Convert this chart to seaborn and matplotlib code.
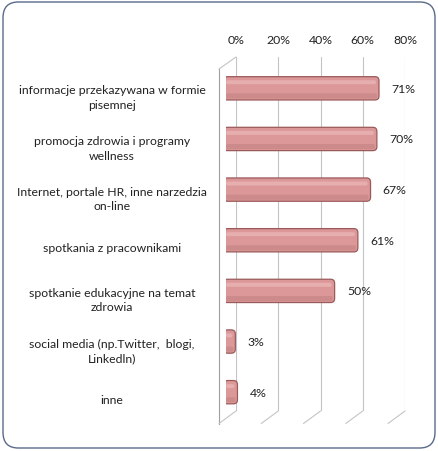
import numpy as np
import pandas as pd
import seaborn as sns
import matplotlib.pyplot as plt
from matplotlib.lines import Line2D
from matplotlib.patches import FancyBboxPatch

categories = [
    "informacje przekazywana w formie\npisemnej",
    "promocja zdrowia i programy\nwellness",
    "Internet, portale HR, inne narzedzia\non-line",
    "spotkania z pracownikami",
    "spotkanie edukacyjne na temat\nzdrowia",
    "social media (np.Twitter,  blogi,\nLinkedln)",
    "inne",
]
values = [71, 70, 67, 61, 50, 3, 4]
value_labels = ["71%", "70%", "67%", "61%", "50%", "3%", "4%"]
xticks = [0, 20, 40, 60, 80]
xtick_labels = ["0%", "20%", "40%", "60%", "80%"]

sns.set_style("white")
plt.rcParams["font.family"] = ["Lato", "DejaVu Sans"]
fs = 8.8

W, H = 438, 452
fig = plt.figure(figsize=(W / 100, H / 100), dpi=100)


def rect(left, top, right, bottom):
    return [left / W, (H - bottom) / H, (right - left) / W, (bottom - top) / H]


# rounded frame
fig.add_artist(FancyBboxPatch((3 / W, 3 / H), 432 / W, 446 / H,
                              boxstyle="round,pad=0,rounding_size=0.035",
                              transform=fig.transFigure, fill=False,
                              edgecolor="#5a6a8a", linewidth=1.0))

df = pd.DataFrame({"cat": categories, "val": values})
ylim = (len(categories) - 0.5, -0.5)

# back wall: grid and top ticks
ax_back = fig.add_axes(rect(236, 58, 405, 412))
ax_back.set_xlim(0, 80)
ax_back.set_ylim(*ylim)
ax_back.set_xticks(xticks)
ax_back.set_xticklabels(xtick_labels, fontsize=fs, color="#222222")
ax_back.set_yticks([])
ax_back.xaxis.tick_top()
ax_back.tick_params(axis="x", length=0, pad=9)
for s in ax_back.spines.values():
    s.set_visible(False)
for t in xticks:
    ax_back.axvline(t, color="#c4c4c4", linewidth=0.8)
ax_back.patch.set_alpha(0)

# bars at mid depth
ax_bar = fig.add_axes(rect(226, 64, 395, 418.5))
sns.barplot(data=df, x="val", y="cat", ax=ax_bar, orient="h", width=0.46,
            color="#dc9898", linewidth=0)
ax_bar.set_xlim(0, 80)
ax_bar.set_ylim(*ylim)
ax_bar.axis("off")
ax_bar.patch.set_alpha(0)

# rounded bar shapes replacing the plain rectangles
xpx = 169 / 80
ypx = 354.5 / len(categories)
r = 4 / xpx
for p in ax_bar.containers[0]:
    x0, y0, w, h = p.get_x(), p.get_y(), p.get_width(), p.get_height()
    w = max(w, 6 / xpx) + 3 / xpx
    p.set_visible(False)
    ax_bar.add_patch(FancyBboxPatch((x0 - 2.5 / xpx, y0), w + 2.5 / xpx, h,
                                    boxstyle=f"round,pad=0,rounding_size={r}",
                                    mutation_aspect=(4 / ypx) / r,
                                    facecolor="#dc9898", edgecolor="#9a5a5a",
                                    linewidth=0.9))
    ax_bar.add_patch(FancyBboxPatch((x0, y0 + 0.07), max(w - 3 / xpx, 1 / xpx), 0.08,
                                    boxstyle=f"round,pad=0,rounding_size={r / 2}",
                                    mutation_aspect=(1.5 / ypx) / (r / 2),
                                    facecolor="#e6aeae", edgecolor="none"))
    ax_bar.add_patch(FancyBboxPatch((x0, y0 + h - 0.13), max(w - 2 / xpx, 1 / xpx), 0.1,
                                    boxstyle=f"round,pad=0,rounding_size={r / 2}",
                                    mutation_aspect=(1.5 / ypx) / (r / 2),
                                    facecolor="#cc8a8a", edgecolor="none"))
ax_bar.bar_label(ax_bar.containers[0], labels=value_labels, padding=11,
                 fontsize=fs, color="#222222")

# front plane: left axis line and category labels
ax_front = fig.add_axes(rect(219, 70, 388, 424.5))
ax_front.set_xlim(0, 80)
ax_front.set_ylim(*ylim)
ax_front.patch.set_alpha(0)
for side in ["top", "right", "bottom"]:
    ax_front.spines[side].set_visible(False)
ax_front.spines["left"].set_color("#a0a0a0")
ax_front.spines["left"].set_linewidth(0.8)
ax_front.set_xticks([])
ax_front.set_yticks(np.arange(len(categories)))
ax_front.set_yticklabels(categories, fontsize=fs, ha="center", color="#222222",
                         linespacing=1.4)
ax_front.tick_params(axis="y", length=0, pad=77)
ax_front.set_yticks(np.arange(-0.5, len(categories)), minor=True)
ax_front.tick_params(axis="y", which="minor", length=4, color="#a0a0a0", width=0.8)

# depth lines connecting back wall and front plane
inv = fig.transFigure.inverted()


def depth_line(x, y):
    p0 = inv.transform(ax_back.transData.transform((x, y)))
    p1 = inv.transform(ax_front.transData.transform((x, y)))
    fig.add_artist(Line2D([p0[0], p1[0]], [p0[1], p1[1]],
                          color="#c4c4c4", linewidth=0.8))


depth_line(0, -0.5)
for t in xticks:
    depth_line(t, len(categories) - 0.5)

fig.savefig("out.png", dpi=100, facecolor="white")
